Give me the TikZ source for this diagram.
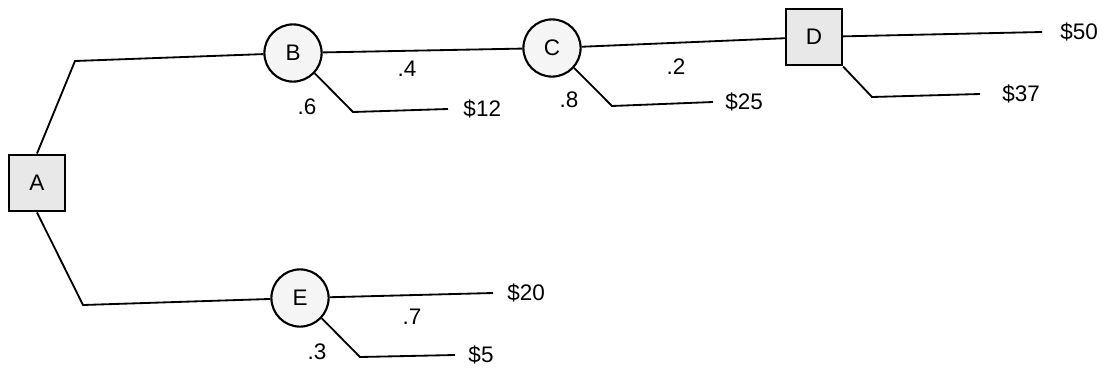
\documentclass[tikz,border=0pt]{standalone}
\usepackage{fontspec}
\setmainfont{Liberation Sans}
\usepackage{tikz}
\usetikzlibrary{positioning}

\begin{document}
\begin{tikzpicture}[x=0.025cm,y=-0.025cm,
        every node/.style={font=\fontsize{16}{19}\selectfont},
        decision/.style={rectangle,draw,line width=1.5pt,fill=gray!18,minimum width=1.4cm,minimum height=1.42cm,inner sep=0pt},
        chance/.style={circle,draw,line width=1.5pt,fill=gray!8,minimum size=1.43cm,inner sep=0pt},
        payoff/.style={inner sep=0pt},
        branch/.style={line width=1.3pt}]
    \useasboundingbox (0,0) rectangle (1103,369);

    % Decision nodes
    \node[decision] (A) at (37,183) {A};
    \node[decision] (D) at (814,37) {D};

    % Chance nodes
    \node[chance] (B) at (293,53) {B};
    \node[chance] (C) at (552,48) {C};
    \node[chance] (E) at (300,298) {E};

    % Bends and ends
    \coordinate (a1) at (75,61);
    \coordinate (a2) at (83,305);
    \coordinate (b1) at (353,112);
    \coordinate (b12) at (448,109);
    \coordinate (c1) at (612,106);
    \coordinate (c25) at (713,102);
    \coordinate (d1) at (872,97);
    \coordinate (d37) at (980,94);
    \coordinate (d50) at (1042,32);
    \coordinate (e1) at (360,357);
    \coordinate (e5) at (455,355);
    \coordinate (e20) at (493,293);

    % Payoffs
    \node[payoff,right=0.38cm of b12] (p12) {\$12};
    \node[payoff,right=0.3cm of c25] (p25) {\$25};
    \node[payoff,right=0.55cm of d37] (p37) {\$37};
    \node[payoff,right=0.45cm of d50] (p50) {\$50};
    \node[payoff,right=0.35cm of e20] (p20) {\$20};
    \node[payoff,right=0.33cm of e5] (p5) {\$5};

    % Probabilities
    \node (q4) at (407,69) {.4};
    \node (q6) at (307,107) {.6};
    \node (q2) at (676,67) {.2};
    \node (q8) at (569,100) {.8};
    \node (q7) at (412,317) {.7};
    \node (q3) at (317,352) {.3};

    % Edges
    \draw[branch] (A.north) -- (a1) -- (B);
    \draw[branch] (A.south) -- (a2) -- (E);
    \draw[branch] (B) -- (C);
    \draw[branch] (B.-43) -- (b1) -- (b12);
    \draw[branch] (C) -- (D);
    \draw[branch] (C.-42) -- (c1) -- (c25);
    \draw[branch] (D) -- (d50);
    \draw[branch] (D.south east) -- (d1) -- (d37);
    \draw[branch] (E) -- (e20);
    \draw[branch] (E.-43) -- (e1) -- (e5);
    \end{tikzpicture}
\end{document}
